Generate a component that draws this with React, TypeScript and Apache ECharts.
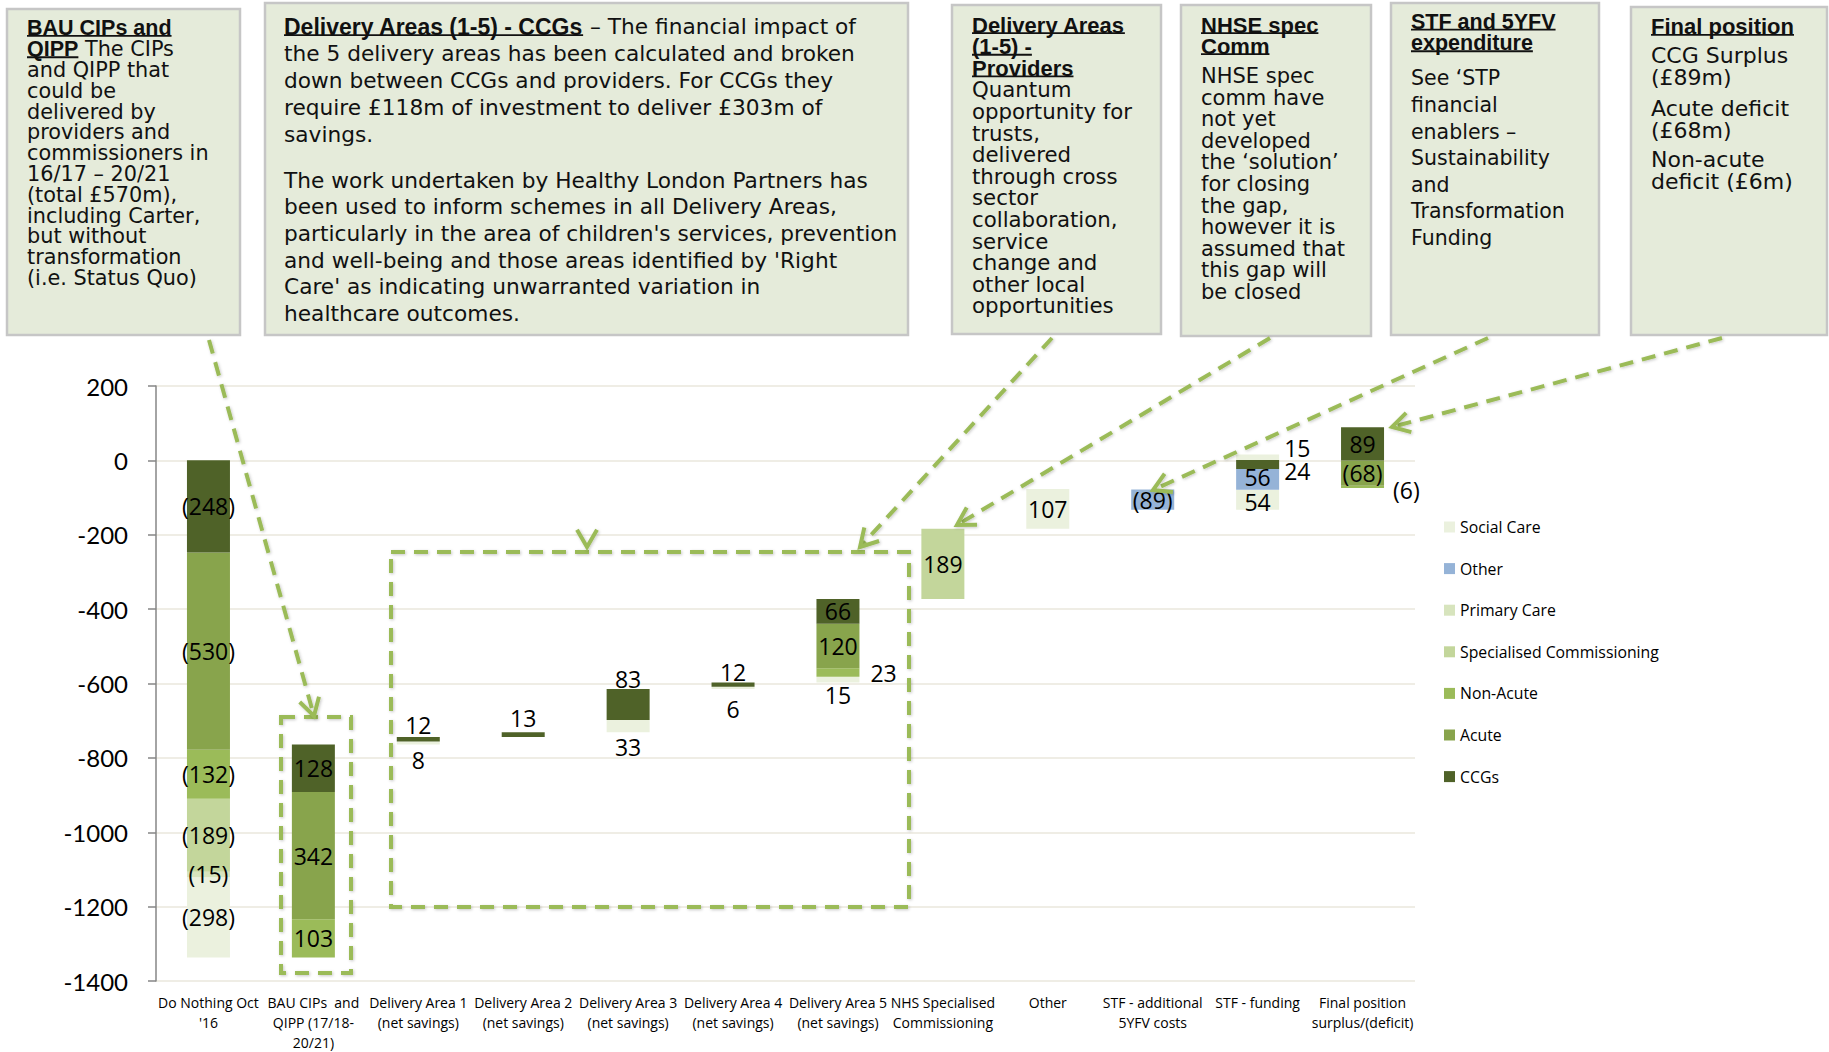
import React, { useEffect, useRef } from 'react';
import * as echarts from 'echarts';

// ---------------- DATA ----------------
const categories = [
  "Do Nothing Oct\n'16",
  'BAU CIPs  and\nQIPP (17/18-\n20/21)',
  'Delivery Area 1\n(net savings)',
  'Delivery Area 2\n(net savings)',
  'Delivery Area 3\n(net savings)',
  'Delivery Area 4\n(net savings)',
  'Delivery Area 5\n(net savings)',
  'NHS Specialised\nCommissioning',
  'Other',
  'STF - additional\n5YFV costs',
  'STF - funding',
  'Final position\nsurplus/(deficit)',
];

// bottom of each floating column (waterfall running position)
const columnBase = [-1337, -1337, -764, -744, -731, -615, -597, -373, -184, -133, -133, -74];

// segment heights, stacked bottom-to-top in this series order
const socialCare = [216, 0, 8, 0, 33, 6, 15, 0, 107, 0, 54, 0];
const otherCost = [0, 0, 0, 0, 0, 0, 0, 0, 0, 55, 56, 0];
const primaryCare = [15, 0, 0, 0, 0, 0, 0, 0, 0, 0, 0, 0];
const specialisedComm = [196, 0, 0, 0, 0, 0, 0, 189, 0, 0, 0, 0];
const nonAcute = [132, 103, 0, 0, 0, 0, 23, 0, 0, 0, 0, 6];
const acute = [530, 342, 0, 0, 0, 0, 120, 0, 0, 0, 0, 68];
const ccgs = [248, 128, 12, 13, 83, 12, 66, 0, 0, 0, 24, 89];
const socialCareTop = [0, 0, 0, 0, 0, 0, 0, 0, 0, 0, 15, 0];

// data label texts
const socialCareLabels = ['(298)', '', '8', '', '33', '6', '15', '', '107', '', '54', ''];
const otherLabels = ['', '', '', '', '', '', '', '', '', '(89)', '56', ''];
const primaryCareLabels = ['(15)', '', '', '', '', '', '', '', '', '', '', ''];
const specialisedCommLabels = ['(189)', '', '', '', '', '', '', '189', '', '', '', ''];
const nonAcuteLabels = ['(132)', '103', '', '', '', '', '23', '', '', '', '', '(6)'];
const acuteLabels = ['(530)', '342', '', '', '', '', '120', '', '', '', '', '(68)'];
const ccgsLabels = ['(248)', '128', '12', '13', '83', '12', '66', '', '', '', '24', '89'];
const socialCareTopLabels = ['', '', '', '', '', '', '', '', '', '', '15', ''];

const legendNames = ['Social Care', 'Other', 'Primary Care', 'Specialised Commissioning', 'Non-Acute', 'Acute', 'CCGs'];

// ---------------- STYLE ----------------
const GREEN = '#9BBB59';
const BOX_FILL = '#E5EBDA';
const BOX_STROKE = '#C6C6C6';
const BODY_FONT = '"DejaVu Sans"';
const HEAD_FONT = '"Liberation Sans"';
const LABEL_FONT = '"Open Sans"';

const segmentSeries = [
  { key: 'social', name: 'Social Care', values: socialCare, labels: socialCareLabels, color: '#EBF1DE' },
  { key: 'other', name: 'Other', values: otherCost, labels: otherLabels, color: '#95B3D7' },
  { key: 'primary', name: 'Primary Care', values: primaryCare, labels: primaryCareLabels, color: '#D7E4BD' },
  { key: 'spec', name: 'Specialised Commissioning', values: specialisedComm, labels: specialisedCommLabels, color: '#C3D69B' },
  { key: 'nonacute', name: 'Non-Acute', values: nonAcute, labels: nonAcuteLabels, color: '#9BBB59' },
  { key: 'acute', name: 'Acute', values: acute, labels: acuteLabels, color: '#88A44C' },
  { key: 'ccgs', name: 'CCGs', values: ccgs, labels: ccgsLabels, color: '#4F6228' },
  { key: 'socialTop', name: 'Social Care', values: socialCareTop, labels: socialCareTopLabels, color: '#EBF1DE' },
];

type Placement = { position: string; distance?: number; offset?: number[] };
const labelPlacement: Record<string, Placement> = {
  'ccgs|2': { position: 'top', distance: 4 },
  'social|2': { position: 'bottom', distance: 7 },
  'ccgs|3': { position: 'top', distance: 6 },
  'ccgs|4': { position: 'top', distance: 2 },
  'social|4': { position: 'bottom', distance: 6 },
  'ccgs|5': { position: 'top', distance: 2 },
  'social|5': { position: 'bottom', distance: 11 },
  'nonacute|6': { position: 'right', distance: 11 },
  'social|6': { position: 'bottom', distance: 4 },
  'ccgs|10': { position: 'right', distance: 5, offset: [0, 7] },
  'socialTop|10': { position: 'right', distance: 5, offset: [0, -9] },
  'nonacute|11': { position: 'right', distance: 9, offset: [0, 3] },
  'other|10': { position: 'inside', offset: [0, -2] },
  'social|10': { position: 'inside', offset: [0, 2] },
};

// ---------------- ANNOTATIONS ----------------
type Part = { t: string; b?: boolean };
type Line = { y: number; parts: Part[] };
type Box = { x: number; y: number; w: number; h: number; tx: number; body: number; head: number; lh: number; lines: Line[] };

const L = (y: number, t: string): Line => ({ y, parts: [{ t }] });
const H = (y: number, t: string): Line => ({ y, parts: [{ t, b: true }] });
const seq = (start: number, step: number, texts: string[], bold = false): Line[] =>
  texts.map((t, i) => ({ y: start + step * i, parts: [{ t, b: bold }] }));

const boxes: Box[] = [
  {
    x: 7, y: 9, w: 233, h: 326, tx: 27, body: 20.8, head: 21.5, lh: 20.5,
    lines: [
      H(28, 'BAU CIPs and'),
      { y: 49.3, parts: [{ t: 'QIPP', b: true }, { t: ' The CIPs' }] },
      ...seq(69.9, 20.8, ['and QIPP that', 'could be', 'delivered by', 'providers and', 'commissioners in',
        '16/17 – 20/21', '(total £570m),', 'including Carter,', 'but without', 'transformation', '(i.e. Status Quo)']),
    ],
  },
  {
    x: 265, y: 3, w: 643, h: 332, tx: 284, body: 21.7, head: 23, lh: 26,
    lines: [
      { y: 26.7, parts: [{ t: 'Delivery Areas (1-5) - CCGs', b: true }, { t: ' – The financial impact of' }] },
      ...seq(53.7, 27, ['the 5 delivery areas has been calculated and broken',
        'down between CCGs and providers. For CCGs they',
        'require £118m of investment to deliver £303m of',
        'savings.']),
      ...seq(180, 26.7, ['The work undertaken by Healthy London Partners has',
        'been used to inform schemes in all Delivery Areas,',
        "particularly in the area of children's services, prevention",
        "and well-being and those areas identified by 'Right",
        "Care' as indicating unwarranted variation in",
        'healthcare outcomes.']),
    ],
  },
  {
    x: 952, y: 5, w: 209, h: 329, tx: 972, body: 21.3, head: 22, lh: 21,
    lines: [
      ...seq(25, 21.6, ['Delivery Areas', '(1-5) -', 'Providers'], true),
      ...seq(89.8, 21.6, ['Quantum', 'opportunity for', 'trusts,', 'delivered', 'through cross', 'sector',
        'collaboration,', 'service', 'change and', 'other local', 'opportunities']),
    ],
  },
  {
    x: 1181, y: 5, w: 190, h: 331, tx: 1201, body: 21, head: 22, lh: 20.5,
    lines: [
      ...seq(25, 21, ['NHSE spec', 'Comm'], true),
      ...seq(76, 21.6, ['NHSE spec', 'comm have', 'not yet', 'developed', 'the ‘solution’', 'for closing',
        'the gap,', 'however it is', 'assumed that', 'this gap will', 'be closed']),
    ],
  },
  {
    x: 1391, y: 3, w: 208, h: 332, tx: 1411, body: 20.5, head: 21.5, lh: 21,
    lines: [
      ...seq(21.7, 21.6, ['STF and 5YFV', 'expenditure'], true),
      ...seq(78.3, 26.6, ['See ‘STP', 'financial', 'enablers –', 'Sustainability', 'and', 'Transformation', 'Funding']),
    ],
  },
  {
    x: 1631, y: 7, w: 196, h: 328, tx: 1651, body: 22, head: 22, lh: 21.5,
    lines: [
      H(26.7, 'Final position'),
      L(55, 'CCG Surplus'), L(77, '(£89m)'),
      L(108.3, 'Acute deficit'), L(130, '(£68m)'),
      L(159.3, 'Non-acute'), L(181.7, 'deficit (£6m)'),
    ],
  },
];

const arrows: number[][][] = [
  [[209, 340], [314, 716]],
  [[587, 338], [587, 547]],
  [[1052, 338], [860, 547]],
  [[1270, 338], [957, 525]],
  [[1488, 338], [1153, 490]],
  [[1722, 338], [1392, 427]],
];
const dashedRects = [
  { x: 281, y: 717, width: 70, height: 256 },
  { x: 391, y: 552, width: 518, height: 355 },
];

let measureCtx: CanvasRenderingContext2D | null = null;
function measure(text: string, font: string): number {
  if (!measureCtx) measureCtx = document.createElement('canvas').getContext('2d');
  if (!measureCtx) return text.length * 10;
  measureCtx.font = font;
  return measureCtx.measureText(text).width;
}

function buildGraphics(): any[] {
  const els: any[] = [];
  const dashStyle = {
    stroke: GREEN, lineWidth: 4, lineDash: [14, 9], fill: null,
    shadowBlur: 3, shadowColor: 'rgba(0,0,0,0.22)', shadowOffsetX: 1, shadowOffsetY: 1,
  };
  boxes.forEach((bx) => {
    els.push({
      type: 'rect', shape: { x: bx.x, y: bx.y, width: bx.w, height: bx.h }, z: 1,
      style: { fill: BOX_FILL, stroke: BOX_STROKE, lineWidth: 2.5 }, silent: true,
    });
    bx.lines.forEach((ln) => {
      const text = ln.parts.map((p) => `{${p.b ? 'h' : 'n'}|${p.t}}`).join('');
      els.push({
        type: 'text', x: bx.tx, y: ln.y, z: 2, silent: true,
        style: {
          text, align: 'left', verticalAlign: 'middle', textAlign: 'left', textVerticalAlign: 'middle',
          fill: '#111',
          rich: {
            h: { fontFamily: HEAD_FONT, fontWeight: 'bold', fontSize: bx.head, fill: '#111', lineHeight: bx.lh },
            n: { fontFamily: BODY_FONT, fontWeight: 'normal', fontSize: bx.body, fill: '#111', lineHeight: bx.lh },
          },
        },
      });
      let cx = bx.tx;
      ln.parts.forEach((p) => {
        const font = p.b ? `bold ${bx.head}px ${HEAD_FONT}` : `${bx.body}px ${BODY_FONT}`;
        const w = measure(p.t, font);
        if (p.b) {
          const uy = ln.y + bx.head * 0.37;
          els.push({
            type: 'line', z: 2, silent: true,
            shape: { x1: cx, y1: uy, x2: cx + w, y2: uy },
            style: { stroke: '#111', lineWidth: 1.8 },
          });
        }
        cx += w;
      });
    });
  });
  dashedRects.forEach((r) => {
    els.push({ type: 'rect', shape: r, z: 50, silent: true, style: { ...dashStyle } });
  });
  arrows.forEach(([p0, p1]) => {
    const dx = p1[0] - p0[0];
    const dy = p1[1] - p0[1];
    const len = Math.hypot(dx, dy);
    const ux = dx / len;
    const uy = dy / len;
    const arm = 20;
    const ang = (30 * Math.PI) / 180;
    const rot = (a: number) => [ux * Math.cos(a) - uy * Math.sin(a), ux * Math.sin(a) + uy * Math.cos(a)];
    const r1 = rot(ang);
    const r2 = rot(-ang);
    els.push({
      type: 'line', z: 50, silent: true,
      shape: { x1: p0[0], y1: p0[1], x2: p1[0] - ux * 3, y2: p1[1] - uy * 3 },
      style: { ...dashStyle },
    });
    els.push({
      type: 'polyline', z: 50, silent: true,
      shape: { points: [[p1[0] - r1[0] * arm, p1[1] - r1[1] * arm], [p1[0], p1[1]], [p1[0] - r2[0] * arm, p1[1] - r2[1] * arm]] },
      style: { stroke: GREEN, lineWidth: 4, fill: null, lineJoin: 'miter',
        shadowBlur: 3, shadowColor: 'rgba(0,0,0,0.22)', shadowOffsetX: 1, shadowOffsetY: 1 },
    });
  });
  return els;
}

function buildOption(): any {
  const series: any[] = [
    {
      name: '__base', type: 'bar', stack: 'wf', stackStrategy: 'all', barWidth: 43,
      data: columnBase, itemStyle: { color: 'rgba(0,0,0,0)' }, label: { show: false },
      silent: true, emphasis: { disabled: true },
    },
  ];
  segmentSeries.forEach((s) => {
    series.push({
      name: s.name, id: s.key, type: 'bar', stack: 'wf', stackStrategy: 'all', barWidth: 43,
      itemStyle: { color: s.color }, emphasis: { disabled: true },
      data: s.values.map((v, i) => {
        const txt = s.labels[i];
        const pl = labelPlacement[`${s.key}|${i}`];
        return {
          value: v,
          label: {
            show: !!txt,
            formatter: txt,
            position: pl ? pl.position : 'inside',
            distance: pl && pl.distance !== undefined ? pl.distance : 5,
            offset: pl && pl.offset ? pl.offset : [0, 0],
            fontFamily: LABEL_FONT, fontSize: 23, lineHeight: 17, color: '#000',
          },
        };
      }),
    });
  });

  return {
    animation: false,
    backgroundColor: '#ffffff',
    grid: { left: 156, right: 414, top: 386, bottom: 68, containLabel: false },
    legend: {
      data: legendNames, orient: 'vertical', left: 1444, top: 519, padding: 0,
      itemWidth: 11, itemHeight: 11, itemGap: 25.6, icon: 'rect', selectedMode: false,
      textStyle: { fontFamily: LABEL_FONT, fontSize: 15.8, color: '#000', lineHeight: 16 },
    },
    xAxis: {
      type: 'category', data: categories,
      axisLine: { show: false, onZero: false }, axisTick: { show: false },
      axisLabel: { interval: 0, fontFamily: LABEL_FONT, fontSize: 14, lineHeight: 20, color: '#000', margin: 11 },
      splitLine: { show: false },
    },
    yAxis: {
      type: 'value', min: -1400, max: 200, interval: 200,
      axisLine: { show: true, lineStyle: { color: '#868686', width: 1.5 } },
      axisTick: { show: true, length: 8, lineStyle: { color: '#868686', width: 1.5 } },
      axisLabel: {
        fontFamily: 'Lato', fontSize: 24, color: '#000', margin: 28,
        formatter: (v: number) => String(v),
      },
      splitLine: { show: true, lineStyle: { color: '#EAE7DC', width: 1.5 } },
    },
    series,
    graphic: { elements: buildGraphics() },
  };
}

export default function App() {
  const ref = useRef<HTMLDivElement>(null);
  useEffect(() => {
    if (!ref.current) return;
    const chart = echarts.init(ref.current, null, { renderer: 'svg' });
    chart.setOption(buildOption());
    return () => chart.dispose();
  }, []);
  return (
    <div
      ref={ref}
      style={{ position: 'fixed', left: 0, top: 0, width: 1829, height: 1052, background: '#fff' }}
    />
  );
}
